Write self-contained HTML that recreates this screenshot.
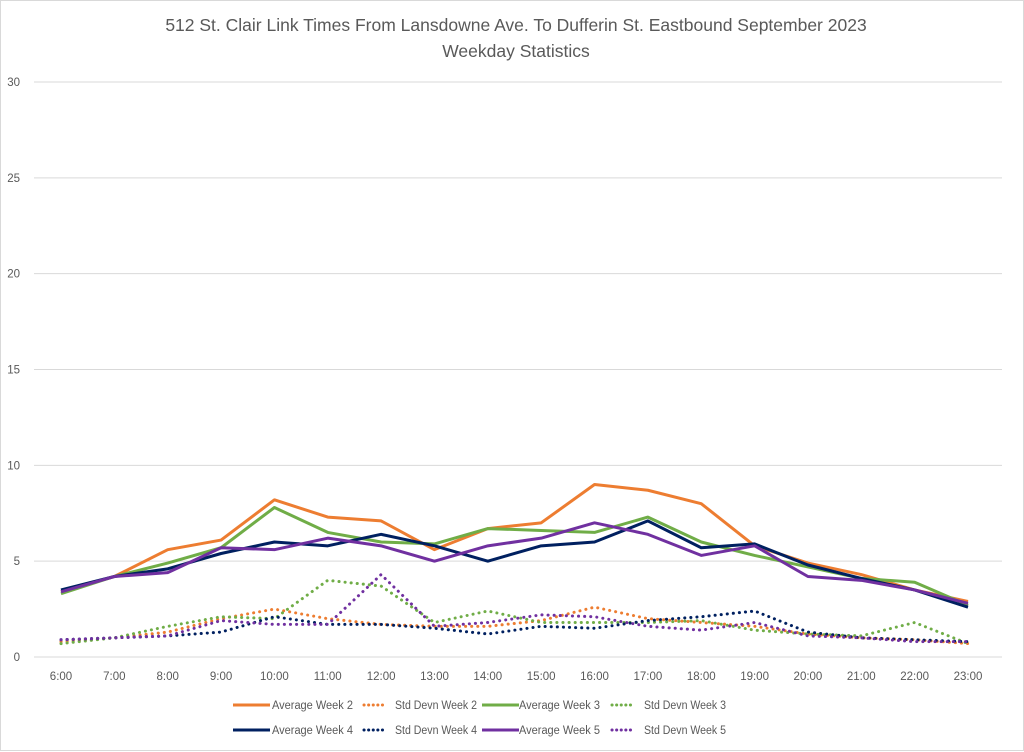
<!DOCTYPE html>
<html><head><meta charset="utf-8"><style>
html,body{margin:0;padding:0;background:#fff;}
svg{display:block;font-family:"Liberation Sans",sans-serif;}
</style></head><body>
<svg id="chart" width="1024" height="752" viewBox="0 0 1024 752" xmlns="http://www.w3.org/2000/svg">
<rect x="0.5" y="0.5" width="1023" height="750" fill="#fff" stroke="#d9d9d9"/>
<text x="516" y="31" text-anchor="middle" font-size="17.5" fill="#595959">512 St. Clair Link Times From Lansdowne Ave. To Dufferin St. Eastbound September 2023</text>
<text x="516" y="57" text-anchor="middle" font-size="17.5" fill="#595959">Weekday Statistics</text>
<g id="grid"></g><g id="series"></g><g id="legend"></g>
</svg>
<script>
const categories=["6:00","7:00","8:00","9:00","10:00","11:00","12:00","13:00","14:00","15:00","16:00","17:00","18:00","19:00","20:00","21:00","22:00","23:00"];
const yTicks=[0,5,10,15,20,25,30];
const avgWeek2=[3.4,4.2,5.6,6.1,8.2,7.3,7.1,5.6,6.7,7.0,9.0,8.7,8.0,5.8,4.9,4.3,3.5,2.9];
const sdWeek2=[0.8,1.0,1.3,2.0,2.5,2.0,1.7,1.6,1.6,1.9,2.6,2.0,1.8,1.6,1.2,1.0,0.9,0.7];
const avgWeek3=[3.3,4.2,4.9,5.7,7.8,6.5,6.0,5.9,6.7,6.6,6.5,7.3,6.0,5.3,4.7,4.1,3.9,2.7];
const sdWeek3=[0.7,1.0,1.6,2.1,2.0,4.0,3.7,1.8,2.4,1.8,1.8,1.8,1.9,1.4,1.2,1.1,1.8,0.7];
const avgWeek4=[3.5,4.2,4.6,5.4,6.0,5.8,6.4,5.8,5.0,5.8,6.0,7.1,5.7,5.9,4.8,4.1,3.5,2.6];
const sdWeek4=[0.9,1.0,1.1,1.3,2.1,1.7,1.7,1.5,1.2,1.6,1.5,1.9,2.1,2.4,1.3,1.0,0.9,0.8];
const avgWeek5=[3.4,4.2,4.4,5.7,5.6,6.2,5.8,5.0,5.8,6.2,7.0,6.4,5.3,5.8,4.2,4.0,3.5,2.8];
const sdWeek5=[0.9,1.0,1.1,1.9,1.7,1.7,4.3,1.6,1.8,2.2,2.1,1.6,1.4,1.8,1.1,1.0,0.8,0.8];

const NS="http://www.w3.org/2000/svg";
const x0=61,x1=968,y0=657,y1=82,yMax=30;
const xs=i=>x0+i*(x1-x0)/(categories.length-1);
const ys=v=>y0-v*(y0-y1)/yMax;
function mk(tag,attrs,parent){const e=document.createElementNS(NS,tag);for(const k in attrs)e.setAttribute(k,attrs[k]);parent.appendChild(e);return e;}
const grid=document.getElementById('grid');
yTicks.forEach(t=>{
  const l=mk('line',{x1:34,x2:1002,y1:ys(t),y2:ys(t),stroke:'#d9d9d9','stroke-width':1},grid);
  
  
  const tx=mk('text',{x:20,y:ys(t)+4,'text-anchor':'end','font-size':11.5,fill:'#595959'},grid);
  tx.textContent=t;
  
  
});
categories.forEach((c,i)=>{
  const tx=mk('text',{x:xs(i),y:680,'text-anchor':'middle','font-size':11.5,fill:'#595959'},grid);
  tx.textContent=c;
  
  
});
const series=[
 {name:"Average Week 2",data:avgWeek2,color:"#ED7D31",dash:false},
 {name:"Std Devn Week 2",data:sdWeek2,color:"#ED7D31",dash:true},
 {name:"Average Week 3",data:avgWeek3,color:"#70AD47",dash:false},
 {name:"Std Devn Week 3",data:sdWeek3,color:"#70AD47",dash:true},
 {name:"Average Week 4",data:avgWeek4,color:"#002060",dash:false},
 {name:"Std Devn Week 4",data:sdWeek4,color:"#002060",dash:true},
 {name:"Average Week 5",data:avgWeek5,color:"#7030A0",dash:false},
 {name:"Std Devn Week 5",data:sdWeek5,color:"#7030A0",dash:true}
];
const sg=document.getElementById('series');
series.forEach(s=>{
  const p=mk('polyline',{points:s.data.map((v,i)=>xs(i)+','+ys(v)).join(' '),fill:'none',stroke:s.color,'stroke-width':3,'stroke-linejoin':'round'},sg);
  if(s.dash){p.setAttribute('stroke-dasharray','0.1 6');p.setAttribute('stroke-linecap','round');}
  
  
});
const lg=document.getElementById('legend');
const sx=[233,358,482,606],tx=[272,394,519,643],rowsY=[705,730];
series.forEach((s,i)=>{
  const r=Math.floor(i/4),c=i%4,y=rowsY[r];
  const g=mk('g',{},lg);
  
  
  const x2=s.dash?sx[c]+26:sx[c]+37;
  const l=mk('line',{x1:sx[c]+(s.dash?6:0),x2:x2,y1:y,y2:y,stroke:s.color,'stroke-width':3},g);
  if(s.dash){l.setAttribute('stroke-dasharray','0.1 4.5');l.setAttribute('stroke-linecap','round');}
  const t=mk('text',{x:s.dash?tx[c]+1:tx[c],y:y+4,'font-size':11.5,fill:'#595959',textLength:s.dash?82:81,lengthAdjust:'spacingAndGlyphs'},g);
  t.textContent=s.name;
});
</script>
</body></html>
